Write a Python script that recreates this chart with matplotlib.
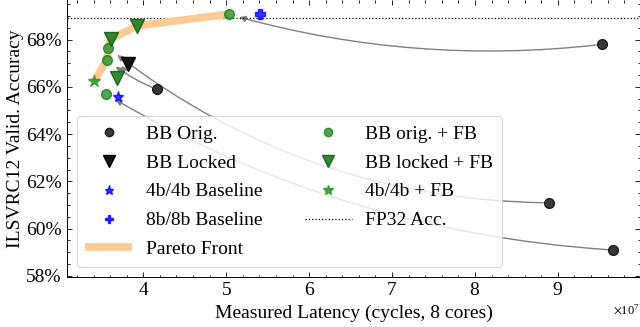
import matplotlib
matplotlib.use("Agg")
import matplotlib.pyplot as plt
from matplotlib.ticker import FuncFormatter, MultipleLocator

# ---------------------------------------------------------------------------
# Data (latency in units of 1e7 cycles, accuracy in %)
# ---------------------------------------------------------------------------
bb_orig_lat = [9.53, 8.89, 9.67, 4.17]
bb_orig_acc = [67.80, 61.09, 59.09, 65.89]

bb_orig_fb_lat = [5.03, 3.58, 3.55, 3.56]
bb_orig_fb_acc = [69.08, 67.64, 65.69, 67.15]

bb_locked_lat = [3.82]
bb_locked_acc = [66.98]

bb_locked_fb_lat = [3.93, 3.61, 3.68]
bb_locked_fb_acc = [68.59, 68.03, 66.39]

base4_lat = [3.70]
base4_acc = [65.58]
base8_lat = [5.41]
base8_acc = [69.08]
fb4_lat = [3.41]
fb4_acc = [66.25]

pareto_lat = [3.41, 3.56, 3.58, 3.61, 3.93, 5.03]
pareto_acc = [66.25, 67.15, 67.64, 68.03, 68.59, 69.08]

fp32_acc = 68.9
SCALE = 1e7

# (from, to, curvature)
arrow_pairs = [
    ((bb_orig_lat[0], bb_orig_acc[0]), (bb_orig_fb_lat[0], bb_orig_fb_acc[0]), -0.10),
    ((bb_orig_lat[1], bb_orig_acc[1]), (bb_orig_fb_lat[1], bb_orig_fb_acc[1]), -0.17),
    ((bb_orig_lat[2], bb_orig_acc[2]), (bb_orig_fb_lat[2], bb_orig_fb_acc[2]), -0.12),
    ((bb_orig_lat[3], bb_orig_acc[3]), (bb_orig_fb_lat[3], bb_orig_fb_acc[3]), -0.08),
]

plt.rcParams["font.family"] = ["Liberation Serif", "DejaVu Serif"]
plt.rcParams["mathtext.fontset"] = "stix"
plt.rcParams["font.size"] = 14


def scaled(vals):
    return [v * SCALE for v in vals]


fig = plt.figure(figsize=(6.4, 3.27), dpi=100)
ax = fig.add_axes([67 / 640, 1 - 276.7 / 327, 1 - 67 / 640, 276.7 / 327])

# arrows
for (x0, y0), (x1, y1), rad in arrow_pairs:
    ax.annotate(
        "", xy=(x1 * SCALE, y1), xytext=(x0 * SCALE, y0),
        arrowprops=dict(arrowstyle="-|>", color="0.5", lw=1.0, mutation_scale=9,
                        shrinkA=4, shrinkB=8, connectionstyle=f"arc3,rad={rad}"),
        zorder=1,
    )
ax.annotate(
    "", xy=(bb_locked_fb_lat[2] * SCALE, bb_locked_fb_acc[2]),
    xytext=(bb_locked_lat[0] * SCALE, bb_locked_acc[0]),
    arrowprops=dict(arrowstyle="-|>", color="0.5", lw=1.0, mutation_scale=9,
                    shrinkA=4, shrinkB=-4),
    zorder=1,
)

ax.plot(scaled(pareto_lat), pareto_acc, color="#fccb95", lw=5.5,
        solid_capstyle="butt", label="Pareto Front", zorder=2)
ax.axhline(fp32_acc, color="k", ls=":", lw=0.9, label="FP32 Acc.", zorder=1)

ax.plot(scaled(bb_orig_lat), bb_orig_acc, "o", color="0.22", mec="0.1",
        ms=7, ls="none", label="BB Orig.", zorder=4)
ax.plot(scaled(bb_locked_lat), bb_locked_acc, "v", color="0.08", mec="0.0",
        ms=10, ls="none", label="BB Locked", zorder=4)
ax.plot(scaled(base4_lat), base4_acc, "*", color="blue", ms=8, alpha=0.8,
        ls="none", label="4b/4b Baseline", zorder=4)
ax.plot(scaled(base8_lat), base8_acc, "P", color="blue", ms=7, alpha=0.8,
        ls="none", label="8b/8b Baseline", zorder=4)
ax.plot(scaled(bb_orig_fb_lat), bb_orig_fb_acc, "o", color="#2e9a2e", mec="#237a23",
        ms=7, alpha=0.85, ls="none", label="BB orig. + FB", zorder=5)
ax.plot(scaled(bb_locked_fb_lat), bb_locked_fb_acc, "v", color="#1b7d1b", mec="#116011",
        ms=10, alpha=0.9, ls="none", label="BB locked + FB", zorder=5)
ax.plot(scaled(fb4_lat), fb4_acc, "*", color="#2e9a2e", ms=9, alpha=0.9,
        ls="none", label="4b/4b + FB", zorder=5)

ax.set_xlim(3.08 * SCALE, 9.99 * SCALE)
ax.set_ylim(57.96, 69.68)

ax.yaxis.set_major_locator(MultipleLocator(2))
ax.yaxis.set_minor_locator(MultipleLocator(0.5))
ax.xaxis.set_major_locator(MultipleLocator(1 * SCALE))
ax.xaxis.set_minor_locator(MultipleLocator(0.2 * SCALE))
ax.yaxis.set_major_formatter(FuncFormatter(lambda v, p: f"{v:.0f}%"))
ax.ticklabel_format(axis="x", style="sci", scilimits=(7, 7), useMathText=True)
ax.xaxis.get_offset_text().set_fontsize(9)

ax.tick_params(which="both", direction="in", top=True, right=True, width=0.6)
ax.tick_params(which="major", length=3.5, pad=4)
ax.tick_params(which="minor", length=1.8)
for side in ["top", "right"]:
    ax.spines[side].set_visible(False)
for side in ["left", "bottom"]:
    ax.spines[side].set_linewidth(0.7)

ax.set_xlabel("Measured Latency (cycles, 8 cores)")
ax.set_ylabel("ILSVRC12 Valid. Accuracy", labelpad=1)

handles, labels = ax.get_legend_handles_labels()
order = ["BB Orig.", "BB Locked", "4b/4b Baseline", "8b/8b Baseline", "Pareto Front",
         "BB orig. + FB", "BB locked + FB", "4b/4b + FB", "FP32 Acc."]
hmap = dict(zip(labels, handles))
leg = ax.legend([hmap[k] for k in order], order, ncol=2, loc="lower left",
                bbox_to_anchor=(0.0, 0.0), fontsize=14, labelspacing=0.58,
                handlelength=2.4, handletextpad=0.7, columnspacing=2.2,
                markerscale=0.85,
                frameon=True, fancybox=True, framealpha=0.8, edgecolor="0.8",
                borderpad=0.45)
leg.get_frame().set_linewidth(0.8)

fig.savefig("out.png", dpi=100)
